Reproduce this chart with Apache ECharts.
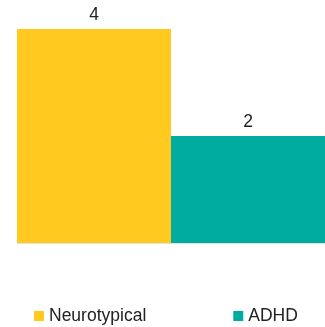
<!DOCTYPE html>
<html>
<head>
<meta charset="utf-8">
<script src="https://cdn.jsdelivr.net/npm/echarts@6/dist/echarts.min.js"></script>
<style>html,body{margin:0;padding:0;background:#fff;}#c{width:325px;height:327px;}</style>
</head>
<body>
<div id="c"></div>
<script>
var categories = [''];
var seriesNames = ['Neurotypical', 'ADHD'];
var neurotypicalValues = [4];
var adhdValues = [2];
var colors = ['#FFC91F', '#00ABA0'];

var chart = echarts.init(document.getElementById('c'), null, {renderer: 'canvas'});
var label = {show: true, position: 'top', distance: 5, color: '#222', fontSize: 17.5, fontFamily: 'Liberation Sans, Arial, sans-serif'};
chart.setOption({
  animation: false,
  grid: {left: 17, right: 0, top: 29, bottom: 84, containLabel: false},
  legend: {
    data: seriesNames,
    left: 29, top: 302,
    itemWidth: 10, itemHeight: 10, itemGap: 87,
    icon: 'rect',
    textStyle: {fontSize: 17.5, color: '#222', fontFamily: 'Liberation Sans, Arial, sans-serif'}
  },
  xAxis: {
    type: 'category', data: categories,
    axisLine: {show: true, lineStyle: {color: '#e0e0e0', width: 1}},
    axisTick: {show: false}, axisLabel: {show: false}, splitLine: {show: false}
  },
  yAxis: {type: 'value', min: 0, max: 4, show: false, splitLine: {show: false}},
  series: [
    {name: seriesNames[0], type: 'bar', data: neurotypicalValues, itemStyle: {color: colors[0]}, label: label, barGap: '0%', barCategoryGap: '0%'},
    {name: seriesNames[1], type: 'bar', data: adhdValues, itemStyle: {color: colors[1]}, label: label, barGap: '0%', barCategoryGap: '0%'}
  ]
});
</script>
</body>
</html>
